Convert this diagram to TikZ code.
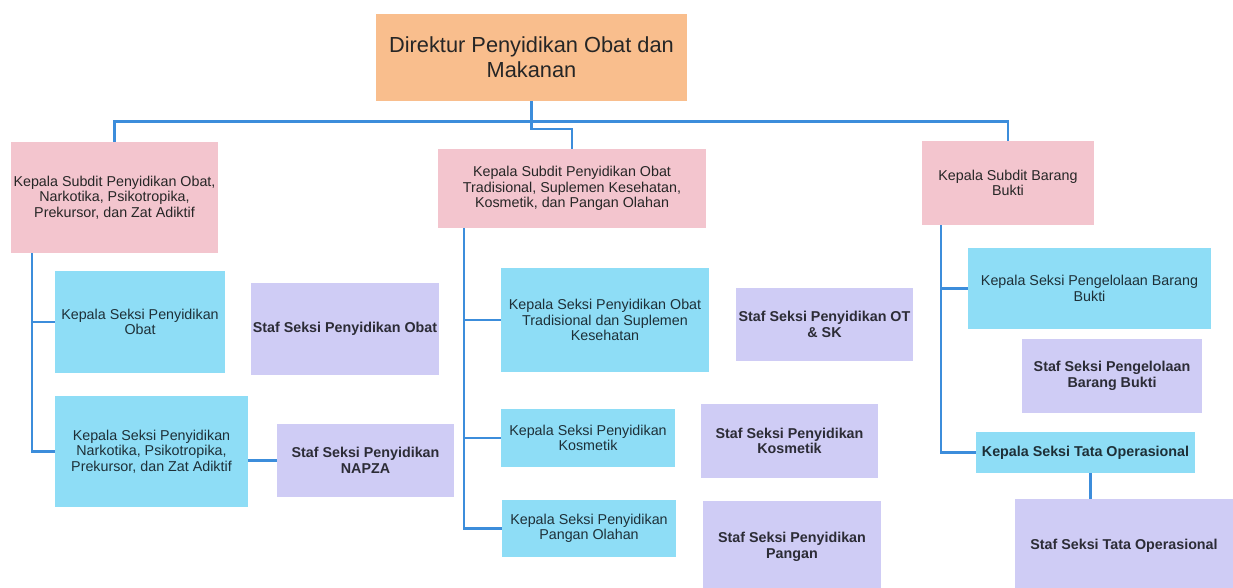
\documentclass[tikz,border=0pt]{standalone}
\usepackage{fontspec}
\setmainfont{Liberation Sans}
\definecolor{orangebox}{HTML}{F9BE8D}
\definecolor{pinkbox}{HTML}{F3C5CE}
\definecolor{cyanbox}{HTML}{8EDDF6}
\definecolor{lavbox}{HTML}{CFCCF5}
\definecolor{linkblue}{HTML}{3C8DDB}
\definecolor{darktext}{HTML}{262626}
\definecolor{tealtext}{HTML}{1E3038}
\definecolor{staftext}{HTML}{2C2C36}
\begin{document}
\begin{tikzpicture}[x=1pt,y=-1pt,
  basebox/.style={inner sep=0pt, align=center, font=\fontsize{14.3}{15.5}\selectfont},
  dirbox/.style={basebox, fill=orangebox, text=darktext, font=\fontsize{21.8}{25}\selectfont},
  subbox/.style={basebox, fill=pinkbox, text=darktext},
  seksibox/.style={basebox, fill=cyanbox, text=tealtext},
  stafbox/.style={basebox, fill=lavbox, text=staftext, font=\fontsize{14.3}{15.5}\selectfont\bfseries},
  link/.style={draw=linkblue, line width=2.6pt}]
\useasboundingbox (0,0) rectangle (1233,588);
\clip (0,0) rectangle (1233,588);

\node[dirbox, minimum width=311pt, minimum height=87pt] (dir) at (531.5,57.5) {Direktur Penyidikan Obat dan\\Makanan};

\node[subbox, minimum width=207pt, minimum height=111pt] (s1) at (114.5,197.5) {Kepala Subdit Penyidikan Obat,\\Narkotika, Psikotropika,\\Prekursor, dan Zat Adiktif};
\node[subbox, minimum width=268pt, minimum height=79pt] (s2) at (572,188.5) {Kepala Subdit Penyidikan Obat\\Tradisional, Suplemen Kesehatan,\\Kosmetik, dan Pangan Olahan};
\node[subbox, minimum width=172pt, minimum height=84pt] (s3) at (1008,183) {Kepala Subdit Barang\\Bukti};

\node[seksibox, minimum width=170pt, minimum height=102pt] (k11) at (140,322) {Kepala Seksi Penyidikan\\Obat};
\node[stafbox, minimum width=188pt, minimum height=92pt] (st11) at (345,329) {Staf Seksi Penyidikan Obat};
\node[seksibox, minimum width=193pt, minimum height=111pt] (k12) at (151.5,451.5) {Kepala Seksi Penyidikan\\Narkotika, Psikotropika,\\Prekursor, dan Zat Adiktif};
\node[stafbox, minimum width=177pt, minimum height=73pt] (st12) at (365.5,460.5) {Staf Seksi Penyidikan\\NAPZA};

\node[seksibox, minimum width=208pt, minimum height=104pt] (k21) at (605,320) {Kepala Seksi Penyidikan Obat\\Tradisional dan Suplemen\\Kesehatan};
\node[stafbox, minimum width=177pt, minimum height=73pt] (st21) at (824.5,324.5) {Staf Seksi Penyidikan OT\\\& SK};
\node[seksibox, minimum width=174pt, minimum height=58pt] (k22) at (588,438) {Kepala Seksi Penyidikan\\Kosmetik};
\node[stafbox, minimum width=177pt, minimum height=74pt] (st22) at (789.5,441) {Staf Seksi Penyidikan\\Kosmetik};
\node[seksibox, minimum width=174pt, minimum height=57pt] (k23) at (589,528.5) {Kepala Seksi Penyidikan\\Pangan Olahan};
\node[stafbox, minimum width=178pt, minimum height=92pt] (st23) at (792,547) {Staf Seksi Penyidikan\\Pangan};

\node[seksibox, minimum width=243pt, minimum height=81pt] (k31) at (1089.5,288.5) {Kepala Seksi Pengelolaan Barang\\Bukti};
\node[stafbox, minimum width=180pt, minimum height=74pt] (st31) at (1112,376) {Staf Seksi Pengelolaan\\Barang Bukti};
\node[seksibox, minimum width=219pt, minimum height=41pt, font=\fontsize{14.3}{15.5}\selectfont\bfseries] (k32) at (1085.5,452.5) {Kepala Seksi Tata Operasional};
\node[stafbox, minimum width=218pt, minimum height=94pt] (st32) at (1124,546) {Staf Seksi Tata Operasional};

% top connectors
\draw[link] (s1.north) -- ++(0,-20) -| (s3.north);
\draw[link] (dir.south) -- ++(0,28) -| (s2.north);

% left column
\draw[link] ([xshift=21pt]s1.south west) |- (k11.west);
\draw[link] ([xshift=21pt]s1.south west) |- (k12.west);
\draw[link] (st12.west -| k12.east) -- (st12.west);

% middle column
\draw[link] ([xshift=26pt]s2.south west) |- (k21.west);
\draw[link] ([xshift=26pt]s2.south west) |- (k22.west);
\draw[link] ([xshift=26pt]s2.south west) |- (k23.west);

% right column
\draw[link] ([xshift=19pt]s3.south west) |- (k31.west);
\draw[link] ([xshift=19pt]s3.south west) |- (k32.west);
\draw[link] ([xshift=5pt]k32.south) -- ([xshift=5pt]k32.south |- st32.north);
\end{tikzpicture}
\end{document}
